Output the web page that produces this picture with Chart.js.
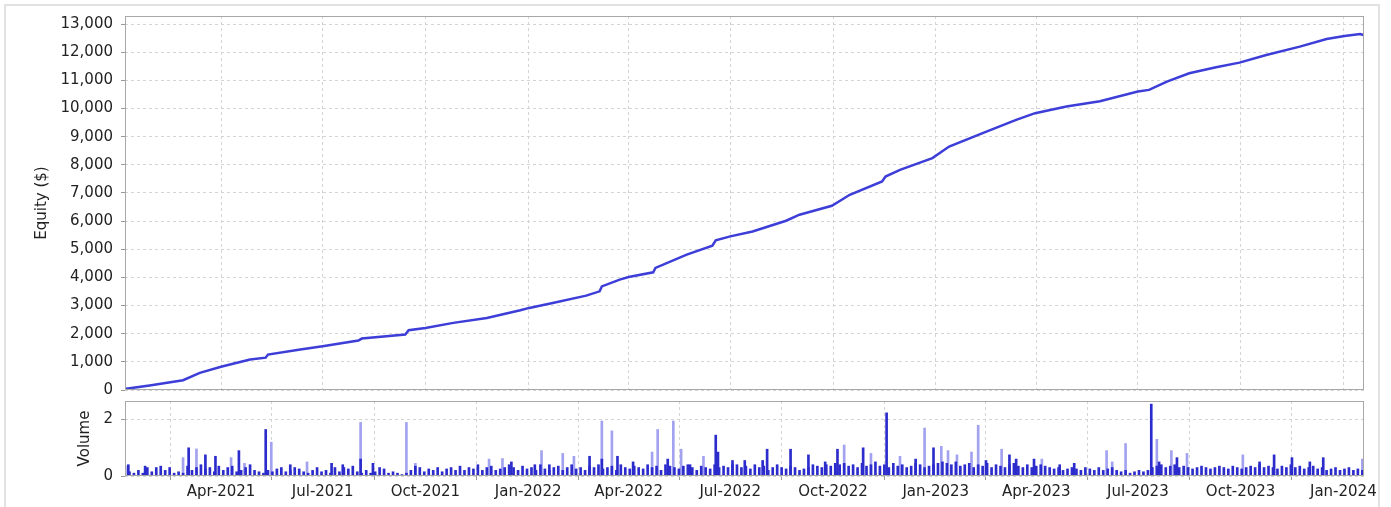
<!DOCTYPE html>
<html>
<head>
<meta charset="utf-8">
<script src="https://cdn.jsdelivr.net/npm/chart.js@4.4.1/dist/chart.umd.min.js"></script>
<style>
  body { margin: 0; background: #fff; }
  #frame { position: absolute; left: 4px; top: 4px; width: 1372px; height: 530px; border: 2px solid #e2e2e2; }
  canvas { position: absolute; left: 0; }
</style>
</head>
<body>
<div id="frame"></div>
<canvas id="equity" width="1391" height="400" style="top:0"></canvas>
<canvas id="volume" width="1391" height="117" style="top:390px"></canvas>
<script>
// x values are days counted from 5 Jan 2021
const startDate = Date.UTC(2021, 0, 5);
const lastDay = 1109.5;

const tickLabels = ['Apr-2021', 'Jul-2021', 'Oct-2021', 'Jan-2022', 'Apr-2022', 'Jul-2022',
    'Oct-2022', 'Jan-2023', 'Apr-2023', 'Jul-2023', 'Oct-2023', 'Jan-2024'];
const equityTicks = [0, 1000, 2000, 3000, 4000, 5000, 6000, 7000, 8000, 9000, 10000, 11000, 12000, 13000];
const volumeTicks = [0, 2];

const equityDays = [0, 1, 22, 52, 67, 86, 112, 126, 128, 157, 177, 209, 212, 251, 254, 269, 294, 324,
    354, 362, 383, 413, 425, 427, 443, 451, 473, 475, 503, 526, 529, 542, 562, 592, 604, 633, 649,
    678, 681, 694, 723, 738, 768, 798, 815, 843, 873, 907, 917, 933, 953, 977, 998, 1022, 1052,
    1076, 1092, 1106, 1109];
const equityValues = [20, 43, 160, 348, 610, 823, 1082, 1150, 1259, 1437, 1554, 1756, 1827, 1969,
    2121, 2206, 2384, 2561, 2831, 2916, 3093, 3352, 3505, 3680, 3920, 4016, 4179, 4335, 4807, 5126,
    5314, 5456, 5633, 6013, 6226, 6545, 6935, 7407, 7584, 7822, 8237, 8648, 9124, 9596, 9833, 10067,
    10260, 10600, 10660, 10954, 11252, 11465, 11628, 11901, 12196, 12469, 12576, 12647, 12611];

// small trades, one value per 4-day bucket
const baseVolumes = [
    0.35, 0.15, 0.1, 0.2, 0.1, 0.3, 0.15, 0.3, 0.35, 0.2, 0.3, 0.1, 0.15, 0.1, 0.35, 0.2, 0.3, 0.4, 0.25, 0.3, 0.15, 0.35,
    0.2, 0.3, 0.35, 0.15, 0.2, 0.3, 0.4, 0.2, 0.15, 0.1, 0.2, 0.15, 0.25, 0.3, 0.15, 0.2, 0.3, 0.25, 0.15, 0.1, 0.2, 0.3, 0.15,
    0.2, 0.1, 0.3, 0.15, 0.3, 0.25, 0.35, 0.15, 0.1, 0.2, 0.1, 0.15, 0.3, 0.25, 0.1, 0.15, 0.1, 0.05, 0.1, 0.2, 0.35, 0.3, 0.15,
    0.25, 0.2, 0.3, 0.15, 0.25, 0.3, 0.2, 0.35, 0.2, 0.3, 0.25, 0.4, 0.2, 0.3, 0.35, 0.2, 0.25, 0.3, 0.4, 0.3, 0.2, 0.35, 0.25,
    0.3, 0.2, 0.4, 0.25, 0.2, 0.3, 0.35, 0.2, 0.3, 0.4, 0.25, 0.3, 0.2, 0.35, 0.3, 0.4, 0.25, 0.3, 0.35, 0.2, 0.4, 0.3, 0.25,
    0.35, 0.3, 0.25, 0.4, 0.3, 0.35, 0.2, 0.4, 0.35, 0.3, 0.25, 0.35, 0.4, 0.3, 0.2, 0.35, 0.3, 0.25, 0.4, 0.3, 0.35, 0.3, 0.4,
    0.4, 0.3, 0.35, 0.25, 0.4, 0.3, 0.35, 0.2, 0.3, 0.4, 0.3, 0.25, 0.35, 0.3, 0.2, 0.25, 0.3, 0.4, 0.35, 0.3, 0.4, 0.35, 0.45,
    0.4, 0.45, 0.35, 0.4, 0.3, 0.45, 0.35, 0.4, 0.5, 0.35, 0.4, 0.3, 0.45, 0.35, 0.4, 0.3, 0.35, 0.45, 0.4, 0.3, 0.35, 0.4, 0.45,
    0.5, 0.45, 0.4, 0.5, 0.35, 0.4, 0.45, 0.3, 0.4, 0.35, 0.45, 0.3, 0.4, 0.35, 0.3, 0.4, 0.45, 0.35, 0.3, 0.4, 0.3, 0.35, 0.4,
    0.35, 0.3, 0.25, 0.3, 0.2, 0.25, 0.3, 0.25, 0.2, 0.3, 0.25, 0.2, 0.3, 0.2, 0.25, 0.3, 0.2, 0.15, 0.2, 0.1, 0.15, 0.2, 0.15,
    0.2, 0.3, 0.35, 0.4, 0.3, 0.35, 0.4, 0.3, 0.35, 0.3, 0.25, 0.3, 0.35, 0.3, 0.25, 0.3, 0.35, 0.3, 0.25, 0.35, 0.3, 0.25, 0.3,
    0.35, 0.3, 0.4, 0.3, 0.35, 0.3, 0.25, 0.35, 0.3, 0.4, 0.3, 0.35, 0.25, 0.3, 0.35, 0.25, 0.3, 0.2, 0.25, 0.3, 0.2, 0.25, 0.3, 0.2, 0.25, 0.2
];

const darkDays = [3, 18, 57, 72, 81, 102, 126, 148, 185, 195, 211, 222, 346, 367, 380, 416, 427, 441,
    455, 486, 506, 529, 531, 544, 555, 571, 575, 596, 612, 627, 638, 661, 682, 708, 724, 771, 792,
    798, 814, 837, 850, 919, 926, 942, 1016, 1029, 1045, 1061, 1073];
const darkVolumes = [0.4, 0.35, 1.0, 0.75, 0.7, 0.9, 1.65, 0.4, 0.45, 0.4, 0.6, 0.45, 0.5, 0.4, 0.4,
    0.7, 0.6, 0.7, 0.5, 0.6, 0.4, 1.45, 0.85, 0.55, 0.55, 0.55, 0.95, 0.95, 0.75, 0.5, 0.95, 1.0,
    2.24, 0.6, 1.0, 0.55, 0.75, 0.6, 0.6, 0.4, 0.45, 2.55, 0.5, 0.65, 0.5, 0.75, 0.65, 0.5, 0.65];

const lightDays = [52, 64, 95, 107, 131, 163, 211, 252, 260, 326, 338, 373, 392, 402, 427, 436, 472,
    477, 491, 498, 518, 644, 668, 694, 716, 731, 737, 745, 758, 764, 785, 821, 879, 884, 896, 924,
    937, 951, 1001, 1108];
const lightVolumes = [0.65, 0.96, 0.65, 0.45, 1.2, 0.5, 1.9, 1.9, 0.45, 0.6, 0.62, 0.9, 0.8, 0.7,
    1.95, 1.6, 0.85, 1.65, 1.95, 0.95, 0.7, 1.1, 0.8, 0.7, 1.7, 1.05, 0.9, 0.75, 0.85, 1.8, 0.95,
    0.6, 0.9, 0.5, 1.15, 1.3, 0.9, 0.8, 0.75, 0.6];

const monthIndex = {Jan: 0, Apr: 3, Jul: 6, Oct: 9};
const tickDays = tickLabels.map(function (t) {
    let parts = t.split('-');
    return (Date.UTC(+parts[1], monthIndex[parts[0]], 1) - startDate) / 86400000;
});

const font = {family: 'DejaVu Sans', size: 15};
const textColor = '#222';
const gridColor = '#d4d4d4';

const frame = {
    id: 'frame',
    afterDraw(chart) {
        let a = chart.chartArea;
        let ctx = chart.ctx;
        ctx.save();
        ctx.strokeStyle = '#a8a8a8';
        ctx.lineWidth = 1;
        ctx.strokeRect(a.left + 0.5, a.top + 0.5, a.right - a.left - 1, a.bottom - a.top - 1);
        ctx.restore();
    }
};

const fixedTicks = values => function (scale) {
    scale.ticks = values.map(v => ({value: v}));
};

const xAxis = function (showLabels) {
    return {
        type: 'linear',
        min: 0,
        max: lastDay,
        offset: false,
        afterBuildTicks: fixedTicks(tickDays),
        afterFit: function (scale) { scale.height = showLabels ? 31 : 10; },
        grid: {color: gridColor, drawTicks: showLabels, tickLength: 4, tickColor: '#999'},
        border: {display: false, dash: [3, 3]},
        ticks: {
            display: showLabels,
            font: font,
            color: textColor,
            padding: 3,
            maxRotation: 0,
            callback: (v, i) => tickLabels[i]
        }
    };
};

const yAxis = function (title, titlePad, max, ticks) {
    return {
        min: 0,
        max: max,
        afterBuildTicks: fixedTicks(ticks),
        afterFit: function (scale) {
            scale.width = 125;
            scale.paddingTop = 0;
            scale.paddingBottom = 0;
        },
        grid: {color: gridColor, tickLength: 4, tickColor: '#999'},
        border: {display: false, dash: [3, 3]},
        title: {display: true, text: title, font: font, color: textColor, padding: {top: titlePad, bottom: 0}},
        ticks: {
            font: font,
            color: textColor,
            padding: 8,
            callback: v => v.toLocaleString('en-US')
        }
    };
};

Chart.defaults.font.family = 'DejaVu Sans';

let equityChart = new Chart(document.getElementById('equity').getContext('2d'), {
    type: 'line',
    data: {
        datasets: [{
            data: equityDays.map((d, i) => ({x: d, y: equityValues[i]})),
            borderColor: '#3d3dd8',
            borderWidth: 2.5,
            pointRadius: 0,
            tension: 0
        }]
    },
    options: {
        responsive: false,
        animation: false,
        layout: {padding: {top: 16, right: 27, left: 0, bottom: 0}},
        plugins: {legend: {display: false}, tooltip: {enabled: false}},
        scales: {
            x: xAxis(false),
            y: yAxis('Equity ($)', 33, 13285, equityTicks)
        }
    },
    plugins: [frame]
});

let volumeChart = new Chart(document.getElementById('volume').getContext('2d'), {
    type: 'bar',
    data: {
        datasets: [{
            data: darkDays.map((d, i) => ({x: d, y: darkVolumes[i]}))
                .concat(baseVolumes.map((v, i) => ({x: i * 4, y: v}))),
            backgroundColor: '#2c2ccc',
            barThickness: 2,
            grouped: false
        }, {
            data: lightDays.map((d, i) => ({x: d, y: lightVolumes[i]})),
            backgroundColor: '#a2a2f0',
            barThickness: 2,
            grouped: false
        }]
    },
    options: {
        responsive: false,
        animation: false,
        layout: {padding: {top: 11, right: 27, left: 0, bottom: 0}},
        plugins: {legend: {display: false}, tooltip: {enabled: false}},
        scales: {
            x: xAxis(true),
            y: yAxis('Volume', 76, 2.66, volumeTicks)
        }
    },
    plugins: [frame]
});
</script>
</body>
</html>
